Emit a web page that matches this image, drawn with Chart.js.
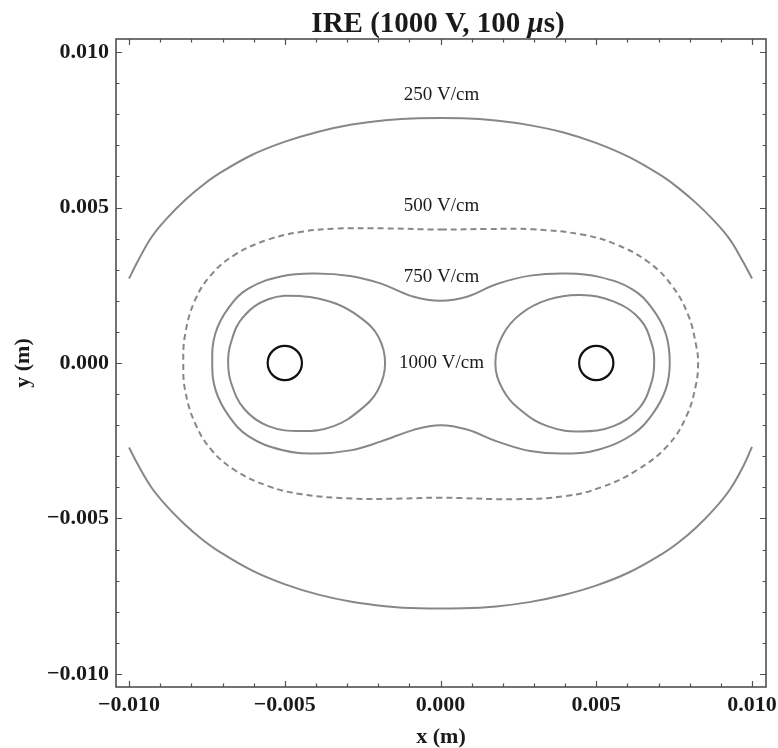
<!DOCTYPE html>
<html>
<head>
<meta charset="utf-8">
<script src="https://cdn.jsdelivr.net/npm/chart.js@4.4.1/dist/chart.umd.min.js"></script>
<style>
  html, body { margin: 0; padding: 0; background: #fff; }
  canvas { display: block; }
</style>
</head>
<body>
<canvas id="chart" width="778" height="748"></canvas>
<script>
// Electric field iso-contours (V/cm) around two needle electrodes, coordinates in metres.
// The 250 V/cm contour leaves the computed domain at x = ±0.010, so it is two open arcs;
// the other contours are closed loops (last point joins back to the first).
const contour250Upper = [
  [-0.0100, 0.00272], [-0.00970, 0.00331], [-0.00927, 0.00406], [-0.00874, 0.00470],
  [-0.00820, 0.00524], [-0.00767, 0.00569], [-0.00713, 0.00608], [-0.00606, 0.00669],
  [-0.00499, 0.00712], [-0.00392, 0.00744], [-0.00285, 0.00767], [-0.00178, 0.00781],
  [-0.00071, 0.00787], [0.00071, 0.00787], [0.00178, 0.00780], [0.00285, 0.00765],
  [0.00392, 0.00742], [0.00499, 0.00708], [0.00606, 0.00662], [0.00713, 0.00600],
  [0.00767, 0.00560], [0.00820, 0.00515], [0.00874, 0.00462], [0.00927, 0.00400],
  [0.00970, 0.00328], [0.0100, 0.00272]
];
const contour250Lower = [
  [-0.0100, -0.00272], [-0.00970, -0.00330], [-0.00927, -0.00402], [-0.00874, -0.00466],
  [-0.00820, -0.00520], [-0.00767, -0.00566], [-0.00713, -0.00605], [-0.00606, -0.00667],
  [-0.00499, -0.00712], [-0.00392, -0.00745], [-0.00285, -0.00768], [-0.00178, -0.00782],
  [-0.00071, -0.00789], [0.00071, -0.00789], [0.00178, -0.00783], [0.00285, -0.00769],
  [0.00392, -0.00747], [0.00499, -0.00716], [0.00606, -0.00673], [0.00713, -0.00613],
  [0.00767, -0.00575], [0.00820, -0.00530], [0.00874, -0.00475], [0.00927, -0.00410],
  [0.00970, -0.00336], [0.0100, -0.00270]
];
const contour500 = [
  [0.00000, 0.00429], [0.00150, 0.00431], [0.00295, 0.00430], [0.00455, 0.00413],
  [0.00562, 0.00382], [0.00667, 0.00325], [0.00742, 0.00250], [0.00795, 0.00155],
  [0.00821, 0.00055], [0.00827, 0.00000], [0.00820, -0.00070], [0.00790, -0.00170],
  [0.00730, -0.00265], [0.00630, -0.00345], [0.00515, -0.00400], [0.00402, -0.00428],
  [0.00241, -0.00438], [0.00000, -0.00433], [-0.00125, -0.00436], [-0.00285, -0.00436],
  [-0.00446, -0.00422], [-0.00553, -0.00396], [-0.00660, -0.00345], [-0.00735, -0.00280],
  [-0.00788, -0.00194], [-0.00820, -0.00088], [-0.00826, 0.00000], [-0.00820, 0.00092],
  [-0.00790, 0.00198], [-0.00738, 0.00282], [-0.00662, 0.00347], [-0.00556, 0.00396],
  [-0.00446, 0.00422], [-0.00339, 0.00432], [-0.00178, 0.00433]
];
const contour750 = [
  [0.00000, 0.00200], [0.00085, 0.00213], [0.00181, 0.00254], [0.00288, 0.00281],
  [0.00406, 0.00288], [0.00509, 0.00277], [0.00616, 0.00237], [0.00680, 0.00175],
  [0.00723, 0.00095], [0.00736, 0.00000], [0.00723, -0.00085], [0.00680, -0.00165],
  [0.00616, -0.00230], [0.00509, -0.00278], [0.00406, -0.00291], [0.00288, -0.00283],
  [0.00181, -0.00252], [0.00085, -0.00214], [0.00000, -0.00200], [-0.00086, -0.00215],
  [-0.00193, -0.00253], [-0.00290, -0.00281], [-0.00400, -0.00291], [-0.00509, -0.00280],
  [-0.00616, -0.00236], [-0.00680, -0.00170], [-0.00722, -0.00088], [-0.00733, 0.00000],
  [-0.00723, 0.00095], [-0.00680, 0.00178], [-0.00616, 0.00240], [-0.00509, 0.00279],
  [-0.00406, 0.00288], [-0.00290, 0.00280], [-0.00193, 0.00256], [-0.00086, 0.00213]
];
const contour1000Left = [
  [-0.00446, 0.00215], [-0.00339, 0.00192], [-0.00256, 0.00145], [-0.00200, 0.00085],
  [-0.00178, 0.00000], [-0.00200, -0.00085], [-0.00257, -0.00150], [-0.00343, -0.00203],
  [-0.00446, -0.00219], [-0.00553, -0.00203], [-0.00630, -0.00148], [-0.00672, -0.00065],
  [-0.00682, 0.00000], [-0.00674, 0.00062], [-0.00636, 0.00145], [-0.00553, 0.00205]
];
const contour1000Right = [
  [0.00449, 0.00219], [0.00555, 0.00198], [0.00641, 0.00140], [0.00680, 0.00055],
  [0.00686, 0.00000], [0.00678, -0.00060], [0.00638, -0.00145], [0.00555, -0.00203],
  [0.00449, -0.00220], [0.00343, -0.00203], [0.00258, -0.00152], [0.00200, -0.00085],
  [0.00176, 0.00000], [0.00200, 0.00090], [0.00256, 0.00157], [0.00343, 0.00203]
];

// Needle electrodes: centres and radius (m)
const electrodeCenters = [[-0.005, 0], [0.005, 0]];
const electrodeRadius = 0.00055;

// Contour names and where each name is written (m)
const contourNames = ['250 V/cm', '500 V/cm', '750 V/cm', '1000 V/cm'];
const contourNameAt = [[0.00003, 0.00862], [0.00003, 0.00505], [0.00003, 0.00277], [0.00003, 0.0]];

// Labelled ticks on both axes
const tickValues = [-0.010, -0.005, 0.000, 0.005, 0.010];
const tickLabels = ['\u22120.010', '\u22120.005', '0.000', '0.005', '0.010'];

const toPoints = arr => arr.map(([x, y]) => ({ x, y }));
const isMajor = v => Math.abs(Math.round(v * 1000)) % 5 === 0;
const labelFor = v => {
  const i = tickValues.findIndex(t => Math.abs(t - v) < 1e-7);
  return i >= 0 ? tickLabels[i] : '';
};

const SERIF = '"Liberation Serif", "Times New Roman", serif';
const LINE_GREY = '#878787';

// Contours use the line controller (spline through the points) on the linear x scale.
const lineSet = (data, extra) => Object.assign({
  type: 'line',
  data: toPoints(data),
  showLine: true,
  borderColor: LINE_GREY,
  borderWidth: 2,
  pointRadius: 0,
  pointHoverRadius: 0,
  tension: 0.4,
  cubicInterpolationMode: 'default',
  fill: false
}, extra || {});

// Closed contours wrap around (as the radar chart does), so the spline stays smooth
// across the first/last point.
const closedLoopPlugin = {
  id: 'closedLoops',
  afterDatasetUpdate(chart, args) {
    const ds = chart.data.datasets[args.index];
    const line = args.meta && args.meta.dataset;
    if (!ds.closed || !line) return;
    line._loop = true;
    line._fullLoop = true;
    line._pointsUpdated = false;
    delete line._segments;
    delete line._path;
  }
};

const bgPlugin = {
  id: 'bg',
  beforeDraw(chart) {
    const { ctx, width, height } = chart;
    ctx.save();
    ctx.fillStyle = '#fff';
    ctx.fillRect(0, 0, width, height);
    ctx.restore();
  }
};

const titlePlugin = {
  id: 'mixedTitle',
  afterDraw(chart) {
    const { ctx } = chart;
    const parts = [
      ['IRE (1000 V, 100 ', 'bold 29px ' + SERIF],
      ['\u03BC', 'italic bold 29px ' + SERIF],
      ['s)', 'bold 29px ' + SERIF]
    ];
    ctx.save();
    ctx.fillStyle = '#1a1a1a';
    ctx.textBaseline = 'alphabetic';
    ctx.textAlign = 'left';
    let total = 0;
    parts.forEach(([t, f]) => { ctx.font = f; total += ctx.measureText(t).width; });
    let x = 438 - total / 2;
    parts.forEach(([t, f]) => { ctx.font = f; ctx.fillText(t, x, 32); x += ctx.measureText(t).width; });
    ctx.restore();
  }
};

const framePlugin = {
  id: 'frameTicks',
  afterDatasetsDraw(chart) {
    const { ctx, chartArea: a, scales: { x, y } } = chart;
    ctx.save();
    ctx.strokeStyle = '#505050';
    ctx.lineWidth = 1.2;
    ctx.beginPath();
    x.ticks.forEach(t => {
      const px = Math.round(x.getPixelForValue(t.value)) + 0.5;
      const len = isMajor(t.value) ? 6 : 3.5;
      ctx.moveTo(px, a.bottom); ctx.lineTo(px, a.bottom - len);
      ctx.moveTo(px, a.top); ctx.lineTo(px, a.top + len);
    });
    y.ticks.forEach(t => {
      const py = Math.round(y.getPixelForValue(t.value)) + 0.5;
      const len = isMajor(t.value) ? 6 : 3.5;
      ctx.moveTo(a.left, py); ctx.lineTo(a.left + len, py);
      ctx.moveTo(a.right, py); ctx.lineTo(a.right - len, py);
    });
    ctx.stroke();
    ctx.lineWidth = 1.6;
    ctx.strokeRect(a.left, a.top, a.right - a.left, a.bottom - a.top);

    // contour names
    ctx.fillStyle = '#1a1a1a';
    ctx.font = '19px ' + SERIF;
    ctx.textAlign = 'center';
    ctx.textBaseline = 'middle';
    contourNames.forEach((name, i) => {
      const [lx, ly] = contourNameAt[i];
      ctx.fillText(name, x.getPixelForValue(lx), y.getPixelForValue(ly));
    });
    ctx.restore();
  }
};

const tickFont = { family: SERIF, size: 22, weight: 'bold' };

new Chart(document.getElementById('chart'), {
  type: 'scatter',
  data: {
    datasets: [
      lineSet(contour250Upper),
      lineSet(contour250Lower),
      lineSet(contour500, { borderDash: [6, 4], closed: true }),
      lineSet(contour750, { closed: true }),
      lineSet(contour1000Left, { closed: true }),
      lineSet(contour1000Right, { closed: true }),
      {
        type: 'scatter',
        data: toPoints(electrodeCenters),
        showLine: false,
        pointStyle: 'circle',
        pointBackgroundColor: 'rgba(0,0,0,0)',
        pointBorderColor: '#111',
        pointBorderWidth: 2.2,
        pointRadius: ctx => {
          const s = ctx.chart.scales.x;
          return Math.abs(s.getPixelForValue(electrodeRadius) - s.getPixelForValue(0));
        }
      }
    ]
  },
  options: {
    responsive: false,
    animation: false,
    events: [],
    layout: { padding: { top: 39, right: 12, left: 0, bottom: 0 } },
    plugins: { legend: { display: false }, tooltip: { enabled: false }, title: { display: false } },
    scales: {
      x: {
        type: 'linear',
        offset: false,
        min: -0.01042,
        max: 0.01045,
        afterFit: s => { s.height = 61; s.paddingLeft = 0; s.paddingRight = 0; },
        grid: { display: false, drawTicks: false },
        border: { display: false },
        ticks: {
          stepSize: 0.001,
          includeBounds: false,
          autoSkip: false,
          maxRotation: 0,
          padding: 5,
          color: '#1a1a1a',
          font: tickFont,
          callback: v => labelFor(v)
        },
        title: {
          display: true,
          text: 'x (m)',
          color: '#1a1a1a',
          font: { family: SERIF, size: 22, weight: 'bold', lineHeight: 1 },
          padding: { top: 0, bottom: 0 }
        }
      },
      y: {
        type: 'linear',
        min: -0.01042,
        max: 0.01042,
        afterFit: s => { s.width = 116; s.paddingTop = 0; s.paddingBottom = 0; },
        grid: { display: false, drawTicks: false },
        border: { display: false },
        ticks: {
          stepSize: 0.001,
          includeBounds: false,
          autoSkip: false,
          padding: 7,
          color: '#1a1a1a',
          font: tickFont,
          callback: v => labelFor(v)
        },
        title: {
          display: true,
          text: 'y (m)',
          color: '#1a1a1a',
          font: { family: SERIF, size: 22, weight: 'bold', lineHeight: 1 },
          padding: { top: 12, bottom: 0 }
        }
      }
    }
  },
  plugins: [bgPlugin, closedLoopPlugin, framePlugin, titlePlugin]
});
</script>
</body>
</html>
